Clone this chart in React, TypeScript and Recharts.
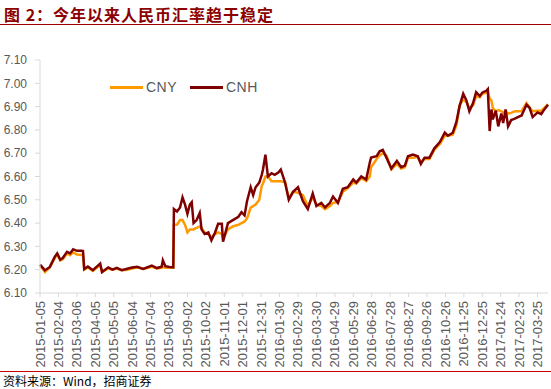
import { LineChart, Line, XAxis, YAxis, Legend } from 'recharts';

const dates = [
  '2015-01-05', '2015-01-09', '2015-01-13', '2015-01-21', '2015-01-29', '2015-02-02', '2015-02-07', '2015-02-11',
  '2015-02-18', '2015-02-23', '2015-02-28', '2015-03-06', '2015-03-14', '2015-03-16', '2015-03-18', '2015-03-24',
  '2015-04-01', '2015-04-13', '2015-04-16', '2015-04-26', '2015-05-03', '2015-05-10', '2015-05-18', '2015-05-27',
  '2015-06-04', '2015-06-12', '2015-06-22', '2015-07-06', '2015-07-14', '2015-07-22', '2015-07-24', '2015-07-28',
  '2015-08-04', '2015-08-10', '2015-08-11', '2015-08-16', '2015-08-21', '2015-08-25', '2015-08-29', '2015-09-02',
  '2015-09-06', '2015-09-09', '2015-09-12', '2015-09-17', '2015-09-22', '2015-09-25', '2015-09-30', '2015-10-06',
  '2015-10-11', '2015-10-17', '2015-10-22', '2015-10-28', '2015-10-30', '2015-11-07', '2015-11-15', '2015-11-24',
  '2015-11-29', '2015-12-04', '2015-12-08', '2015-12-14', '2015-12-18', '2015-12-22', '2015-12-28', '2016-01-01',
  '2016-01-03', '2016-01-07', '2016-01-11', '2016-01-17', '2016-01-22', '2016-01-28', '2016-02-01', '2016-02-08',
  '2016-02-14', '2016-02-21', '2016-02-29', '2016-03-08', '2016-03-16', '2016-03-24', '2016-03-30', '2016-04-07',
  '2016-04-13', '2016-04-21', '2016-04-26', '2016-05-04', '2016-05-12', '2016-05-20', '2016-05-29', '2016-06-03',
  '2016-06-11', '2016-06-19', '2016-06-25', '2016-06-27', '2016-07-06', '2016-07-11', '2016-07-16', '2016-07-22',
  '2016-07-30', '2016-08-08', '2016-08-15', '2016-08-21', '2016-08-26', '2016-09-03', '2016-09-11', '2016-09-16',
  '2016-09-22', '2016-09-30', '2016-10-08', '2016-10-17', '2016-10-25', '2016-10-30', '2016-11-07', '2016-11-13',
  '2016-11-18', '2016-11-24', '2016-11-29', '2016-12-04', '2016-12-10', '2016-12-15', '2016-12-21', '2016-12-25',
  '2017-01-01', '2017-01-03', '2017-01-06', '2017-01-09', '2017-01-11', '2017-01-16', '2017-01-20', '2017-01-25',
  '2017-01-28', '2017-02-01', '2017-02-05', '2017-02-10', '2017-02-16', '2017-02-21', '2017-02-27', '2017-03-07',
  '2017-03-12', '2017-03-17', '2017-03-25', '2017-03-31', '2017-04-05', '2017-04-11',
];

const cny = [
  6.215, 6.205, 6.19, 6.21, 6.25, 6.265, 6.24, 6.245,
  6.27, 6.262, 6.275, 6.265, 6.263, 6.265, 6.2, 6.21,
  6.195, 6.22, 6.19, 6.205, 6.2, 6.205, 6.198, 6.2,
  6.205, 6.21, 6.203, 6.212, 6.205, 6.208, 6.212, 6.208,
  6.208, 6.21, 6.393, 6.393, 6.413, 6.413, 6.393, 6.36,
  6.373, 6.373, 6.373, 6.38, 6.386, 6.38, 6.36, 6.353,
  6.34, 6.353, 6.36, 6.353, 6.333, 6.373, 6.386, 6.393,
  6.4, 6.407, 6.42, 6.467, 6.473, 6.48, 6.5, 6.56,
  6.57, 6.6, 6.6, 6.58, 6.58, 6.58, 6.58, 6.574,
  6.507, 6.534, 6.53, 6.52, 6.473, 6.51, 6.48, 6.473,
  6.46, 6.473, 6.487, 6.49, 6.534, 6.55, 6.574, 6.57,
  6.594, 6.58, 6.6, 6.64, 6.675, 6.69, 6.7, 6.69,
  6.63, 6.655, 6.634, 6.64, 6.68, 6.68, 6.685, 6.66,
  6.675, 6.675, 6.715, 6.74, 6.775, 6.775, 6.78, 6.82,
  6.905, 6.93, 6.92, 6.895, 6.905, 6.945, 6.94, 6.955,
  6.96, 6.965, 6.935, 6.925, 6.895, 6.88, 6.885, 6.88,
  6.875, 6.88, 6.87, 6.873, 6.88, 6.88, 6.88, 6.915,
  6.895, 6.88, 6.882, 6.882, 6.895, 6.91,
];

const cnh = [
  6.222, 6.21, 6.197, 6.212, 6.255, 6.27, 6.243, 6.25,
  6.277, 6.27, 6.288, 6.281, 6.281, 6.28, 6.203, 6.214,
  6.198, 6.226, 6.19, 6.21, 6.2, 6.208, 6.198, 6.204,
  6.209, 6.212, 6.203, 6.218, 6.207, 6.213, 6.24, 6.215,
  6.212, 6.21, 6.46, 6.45, 6.467, 6.51, 6.48, 6.44,
  6.48, 6.49, 6.4, 6.413, 6.443, 6.373, 6.353, 6.36,
  6.326, 6.36, 6.397, 6.397, 6.32, 6.4, 6.413, 6.427,
  6.447, 6.433, 6.494, 6.554, 6.52, 6.554, 6.574, 6.607,
  6.63, 6.694, 6.6, 6.614, 6.607, 6.617, 6.63, 6.574,
  6.5, 6.534, 6.554, 6.494, 6.46, 6.527, 6.473, 6.487,
  6.467, 6.487, 6.514, 6.487, 6.547, 6.554, 6.587, 6.574,
  6.6, 6.587, 6.661, 6.681, 6.687, 6.708, 6.714, 6.681,
  6.634, 6.667, 6.64, 6.647, 6.687, 6.694, 6.687, 6.654,
  6.681, 6.681, 6.721, 6.748, 6.788, 6.775, 6.788, 6.835,
  6.902, 6.955, 6.928, 6.88, 6.915, 6.962, 6.945, 6.96,
  6.969, 6.975, 6.795, 6.888, 6.845, 6.882, 6.815, 6.87,
  6.83, 6.888, 6.815, 6.842, 6.848, 6.855, 6.862, 6.908,
  6.895, 6.855, 6.875, 6.868, 6.888, 6.908,
];

const yTicks = [6.1, 6.2, 6.3, 6.4, 6.5, 6.6, 6.7, 6.8, 6.9, 7.0, 7.1];

const DAY0 = Date.parse('2015-01-05');
const DAY_MS = 86400000;
const dayOf = (s: string) => Math.round((Date.parse(s) - DAY0) / DAY_MS);
const dateOf = (d: number) => new Date(DAY0 + d * DAY_MS).toISOString().slice(0, 10);

// x ticks every 30 calendar days, like the Excel date axis
const xTicks = Array.from({ length: 28 }, (_, i) => i * 30);

const data = dates.map((s, i) => ({ d: dayOf(s), cny: cny[i], cnh: cnh[i] }));

const AXIS = '#595959';
const FONT = 'Liberation Sans, Arial, sans-serif';

const DateTick = (props: any) => {
  const { x, y, payload } = props;
  return (
    <text
      x={x}
      y={y}
      transform={`rotate(-90, ${x}, ${y})`}
      dx={-2}
      dy={4.5}
      textAnchor="end"
      fill={AXIS}
      fontSize={13}
      fontFamily={FONT}
    >
      {dateOf(payload.value)}
    </text>
  );
};

const LegendBox = () => (
  <div style={{ position: 'relative', width: 160, height: 16, fontFamily: FONT, fontSize: 14, color: AXIS, letterSpacing: 0.5, lineHeight: '16px' }}>
    <span style={{ position: 'absolute', left: 0, top: 7, width: 33, height: 3, background: '#FF9900' }} />
    <span style={{ position: 'absolute', left: 36, top: 0 }}>CNY</span>
    <span style={{ position: 'absolute', left: 80, top: 7, width: 33, height: 3, background: '#7F0000' }} />
    <span style={{ position: 'absolute', left: 116, top: 0 }}>CNH</span>
  </div>
);

export default function App() {
  return (
    <div style={{ position: 'absolute', left: 0, top: 0, width: 551, height: 389, background: '#fff' }}>
      <div
        style={{
          position: 'absolute', left: 4, top: 2, fontSize: 16, fontWeight: 'bold', color: '#8B0000',
          fontFamily: '"Noto Sans CJK SC", sans-serif', letterSpacing: 1, whiteSpace: 'nowrap',
        }}
      >
        图 2：今年以来人民币汇率趋于稳定
      </div>
      <div style={{ position: 'absolute', left: 0, top: 24, width: 551, height: 1, background: '#A00000' }} />

      <div style={{ position: 'absolute', left: 0, top: 0 }}>
        <LineChart width={551} height={370} data={data} margin={{ top: 44, right: 3, bottom: 0, left: 0 }}>
          <XAxis
            dataKey="d"
            type="number"
            domain={[0, 827]}
            ticks={xTicks}
            interval={0}
            height={77}
            stroke="#D9D9D9"
            tickSize={4}
            tick={<DateTick />}
          />
          <YAxis
            domain={[6.1, 7.1]}
            ticks={yTicks}
            width={40}
            stroke="#D9D9D9"
            tickSize={5}
            tickMargin={8}
            tickFormatter={(v: number) => v.toFixed(2)}
            tick={{ fill: AXIS, fontSize: 12, fontFamily: FONT }}
          />
          <Legend
            verticalAlign="top"
            align="left"
            content={<LegendBox />}
            wrapperStyle={{ position: 'absolute', top: 79, left: 110, width: 'auto' }}
          />
          <Line dataKey="cny" stroke="#FF9900" strokeWidth={2.5} dot={false} isAnimationActive={false} />
          <Line dataKey="cnh" stroke="#7F0000" strokeWidth={2.5} dot={false} isAnimationActive={false} />
        </LineChart>
      </div>

      <div style={{ position: 'absolute', left: 0, top: 371, width: 551, height: 1, background: '#CC0000' }} />
      <div
        style={{
          position: 'absolute', left: 3, top: 373, fontSize: 12, color: '#000',
          fontFamily: '"Noto Sans CJK SC", sans-serif', whiteSpace: 'nowrap', lineHeight: '15px',
        }}
      >
        资料来源：Wind，招商证券
      </div>
    </div>
  );
}
